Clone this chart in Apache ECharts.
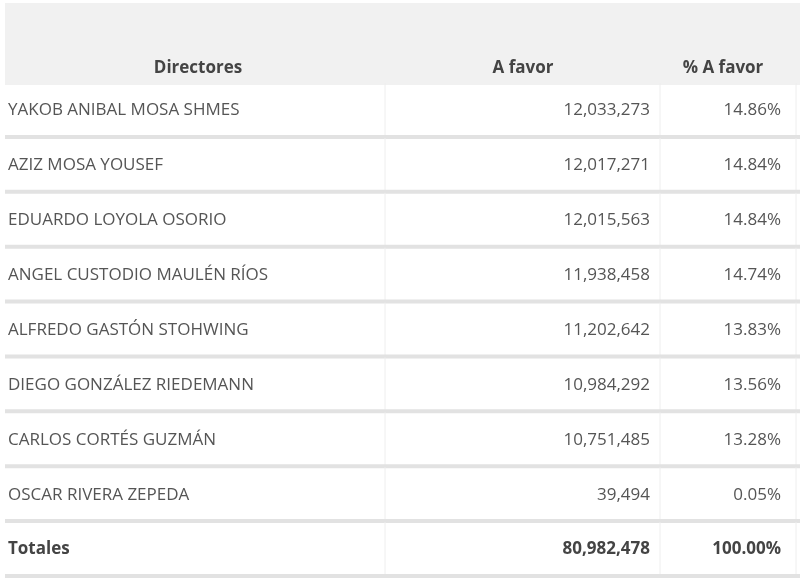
<!DOCTYPE html>
<html>
<head>
<meta charset="utf-8">
<script src="https://cdn.jsdelivr.net/npm/echarts@6/dist/echarts.min.js"></script>
<style>html,body{margin:0;padding:0;background:#fff}#main{width:800px;height:587px}</style>
</head>
<body>
<div id="main"></div>
<script>
// table data
const headers = ['Directores', 'A favor', '% A favor'];
const directores = ['YAKOB ANIBAL MOSA SHMES', 'AZIZ MOSA YOUSEF', 'EDUARDO LOYOLA OSORIO',
    'ANGEL CUSTODIO MAULÉN RÍOS', 'ALFREDO GASTÓN STOHWING', 'DIEGO GONZÁLEZ RIEDEMANN',
    'CARLOS CORTÉS GUZMÁN', 'OSCAR RIVERA ZEPEDA', 'Totales'];
const aFavor = ['12,033,273', '12,017,271', '12,015,563', '11,938,458', '11,202,642',
    '10,984,292', '10,751,485', '39,494', '80,982,478'];
const pctFavor = ['14.86%', '14.84%', '14.84%', '14.74%', '13.83%', '13.56%', '13.28%', '0.05%', '100.00%'];

const font = '"Open Sans", sans-serif';
const textColor = '#555';
const rows = directores.map((d, i) => [i]);

const myChart = echarts.init(document.getElementById('main'));
myChart.setOption({
    animation: false,
    grid: { left: 0, right: 0, top: 83, bottom: 10 },
    xAxis: { type: 'value', min: 0, max: 800, show: false },
    yAxis: { type: 'category', data: directores, inverse: true, show: false },
    graphic: [
        { type: 'rect', shape: { x: 5, y: 3, width: 795, height: 82 }, style: { fill: '#f1f1f1' }, z: 0 },
        { type: 'text', x: 198, y: 68, style: { text: headers[0], font: 'bold 17px ' + font, fill: '#444', align: 'center', verticalAlign: 'middle' } },
        { type: 'text', x: 523, y: 68, style: { text: headers[1], font: 'bold 17px ' + font, fill: '#444', align: 'center', verticalAlign: 'middle' } },
        { type: 'text', x: 723, y: 68, style: { text: headers[2], font: 'bold 17px ' + font, fill: '#444', align: 'center', verticalAlign: 'middle' } }
    ],
    series: [{
        type: 'custom',
        data: rows,
        encode: { y: 0 },
        renderItem: function (params, api) {
            const i = api.value(0);
            const c = api.coord([0, i]);
            const h = api.size([0, 1])[1];
            const top = c[1] - h / 2, bottom = c[1] + h / 2;
            const isTotal = i === directores.length - 1;
            const f = (isTotal ? 'bold ' : '') + '17px ' + font;
            const col = isTotal ? '#444' : textColor;
            const x = function (v) { return api.coord([v, i])[0]; };
            return {
                type: 'group',
                children: [
                    { type: 'line', shape: { x1: x(385), y1: top, x2: x(385), y2: bottom }, style: { stroke: '#eeeeee', lineWidth: 1 } },
                    { type: 'line', shape: { x1: x(660), y1: top, x2: x(660), y2: bottom }, style: { stroke: '#eeeeee', lineWidth: 1 } },
                    { type: 'line', shape: { x1: x(796), y1: top, x2: x(796), y2: bottom }, style: { stroke: '#eeeeee', lineWidth: 1 } },
                    { type: 'line', shape: { x1: x(5), y1: bottom - 1, x2: x(800), y2: bottom - 1 }, style: { stroke: '#e2e2e2', lineWidth: 4 } },
                    { type: 'text', x: x(8), y: c[1], style: { text: directores[i], font: f, fill: col, align: 'left', verticalAlign: 'middle' } },
                    { type: 'text', x: x(650), y: c[1], style: { text: aFavor[i], font: f, fill: col, align: 'right', verticalAlign: 'middle' } },
                    { type: 'text', x: x(781), y: c[1], style: { text: pctFavor[i], font: f, fill: col, align: 'right', verticalAlign: 'middle' } }
                ]
            };
        }
    }]
});
</script>
</body>
</html>
